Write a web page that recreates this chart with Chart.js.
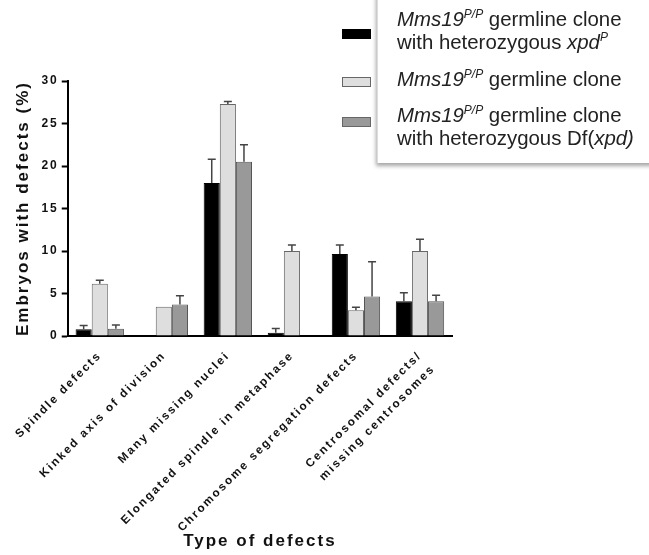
<!DOCTYPE html>
<html>
<head>
<meta charset="utf-8">
<script src="https://cdn.jsdelivr.net/npm/chart.js"></script>
<style>
    html, body { margin: 0; padding: 0; background: #fff; }
    #wrap { position: relative; width: 649px; height: 555px; overflow: hidden; }
    #chart { position: absolute; left: 0; top: 0; }
    .legend-box {
        position: absolute; left: 377px; top: -10px; width: 300px; height: 173px;
        background: #fff; box-shadow: -1px 3px 4px rgba(0,0,0,0.35);
        border-left: 1px solid #ddd;
    }
    .legend-text {
        position: absolute; left: 397px; font-family: "Liberation Sans", Arial, sans-serif;
        font-size: 20.4px; line-height: 23px; color: #222; white-space: nowrap;
    }
    .legend-text sup { font-size: 12px; font-style: italic; vertical-align: 8px; line-height: 0; }
    .swatch { position: absolute; left: 342px; width: 27px; height: 8px; border: 1px solid #666; }
</style>
</head>
<body>
<div id="wrap">
    <canvas id="chart" width="649" height="555"></canvas>
    <div class="legend-box"></div>
    <div class="swatch" style="top:29px;background:#000;border-color:#000"></div>
    <div class="legend-text" style="top:8px"><i>Mms19</i><sup>P/P</sup> germline clone<br>with heterozygous <i>xpd</i><sup>P</sup></div>
    <div class="swatch" style="top:77px;background:#dedede"></div>
    <div class="legend-text" style="top:68px"><i>Mms19</i><sup>P/P</sup> germline clone</div>
    <div class="swatch" style="top:117px;background:#999"></div>
    <div class="legend-text" style="top:104px"><i>Mms19</i><sup>P/P</sup> germline clone<br>with heterozygous Df(<i>xpd)</i></div>
</div>
<script>
// Data (percent of embryos)
const categories = [
    'Spindle defects',
    'Kinked axis of division',
    'Many missing nuclei',
    'Elongated spindle in metaphase',
    'Chromosome segregation defects',
    ['Centrosomal defects/', 'missing centrosomes']
];
const xpdPValues = [0.8, 0, 18.0, 0.4, 9.65, 4.1];
const xpdPErrors = [0.45, 0, 2.8, 0.5, 1.05, 1.0];
const cloneValues = [6.15, 3.45, 27.3, 10.0, 3.05, 10.0];
const cloneErrors = [0.4, 0, 0.3, 0.7, 0.35, 1.4];
const dfXpdValues = [0.85, 3.7, 20.5, 0, 4.65, 4.1];
const dfXpdErrors = [0.45, 1.05, 2.0, 0, 4.1, 0.7];
const yTicks = [0, 5, 10, 15, 20, 25, 30];

const errorSets = [xpdPErrors, cloneErrors, dfXpdErrors];

// letter spacing for all canvas text (the figure uses wide tracking)
const spacingPlugin = {
    id: 'spacing',
    beforeUpdate(chart) { chart.ctx.letterSpacing = '2px'; },
    beforeDraw(chart) { chart.ctx.letterSpacing = '2px'; }
};

// upper error whiskers with caps
const errorBarPlugin = {
    id: 'errorBars',
    afterDatasetsDraw(chart) {
        const ctx = chart.ctx;
        const yScale = chart.scales.y;
        ctx.save();
        ctx.strokeStyle = '#444';
        ctx.lineWidth = 1.5;
        chart.data.datasets.forEach((ds, i) => {
            const meta = chart.getDatasetMeta(i);
            meta.data.forEach((bar, j) => {
                const err = errorSets[i][j];
                if (!err) return;
                const top = yScale.getPixelForValue(ds.data[j] + err);
                ctx.beginPath();
                ctx.moveTo(bar.x, bar.y);
                ctx.lineTo(bar.x, top);
                ctx.moveTo(bar.x - 4, top);
                ctx.lineTo(bar.x + 4, top);
                ctx.stroke();
            });
        });
        ctx.restore();
    }
};

new Chart(document.getElementById('chart'), {
    type: 'bar',
    data: {
        labels: categories,
        datasets: [
            { label: 'xpdP', data: xpdPValues, backgroundColor: '#000', borderColor: '#000', borderWidth: 1 },
            { label: 'clone', data: cloneValues, backgroundColor: '#dedede', borderColor: '#666', borderWidth: 1 },
            { label: 'Df(xpd)', data: dfXpdValues, backgroundColor: '#999', borderColor: '#555', borderWidth: 1 }
        ]
    },
    options: {
        responsive: false,
        animation: false,
        layout: { padding: { left: 13, right: 197, top: 81, bottom: 0 } },
        plugins: { legend: { display: false }, tooltip: { enabled: false } },
        datasets: { bar: { categoryPercentage: 0.755, barPercentage: 1 } },
        scales: {
            x: {
                grid: { display: false },
                border: { color: '#000', width: 2 },
                ticks: {
                    autoSkip: false,
                    maxRotation: 45,
                    minRotation: 45,
                    color: '#111',
                    font: { family: 'Liberation Sans', size: 11.7, weight: 'bold', lineHeight: 1.6 }
                },
                title: {
                    display: true,
                    text: 'Type of defects',
                    color: '#111',
                    font: { family: 'Liberation Sans', size: 17, weight: 'bold' },
                    padding: { top: -21, bottom: 3 }
                }
            },
            y: {
                min: 0,
                max: 30,
                afterBuildTicks(axis) { axis.ticks = yTicks.map(v => ({ value: v })); },
                grid: { drawOnChartArea: false, drawTicks: true, tickLength: 6, tickColor: '#000', tickWidth: 2 },
                border: { color: '#000', width: 2 },
                ticks: {
                    color: '#111',
                    padding: 3,
                    font: { family: 'Liberation Sans', size: 12, weight: 'bold' }
                },
                title: {
                    display: true,
                    text: 'Embryos with defects (%)',
                    color: '#111',
                    font: { family: 'Liberation Sans', size: 17, weight: 'bold' },
                    padding: { top: 0, bottom: 5 }
                }
            }
        }
    },
    plugins: [spacingPlugin, errorBarPlugin]
});
</script>
</body>
</html>
